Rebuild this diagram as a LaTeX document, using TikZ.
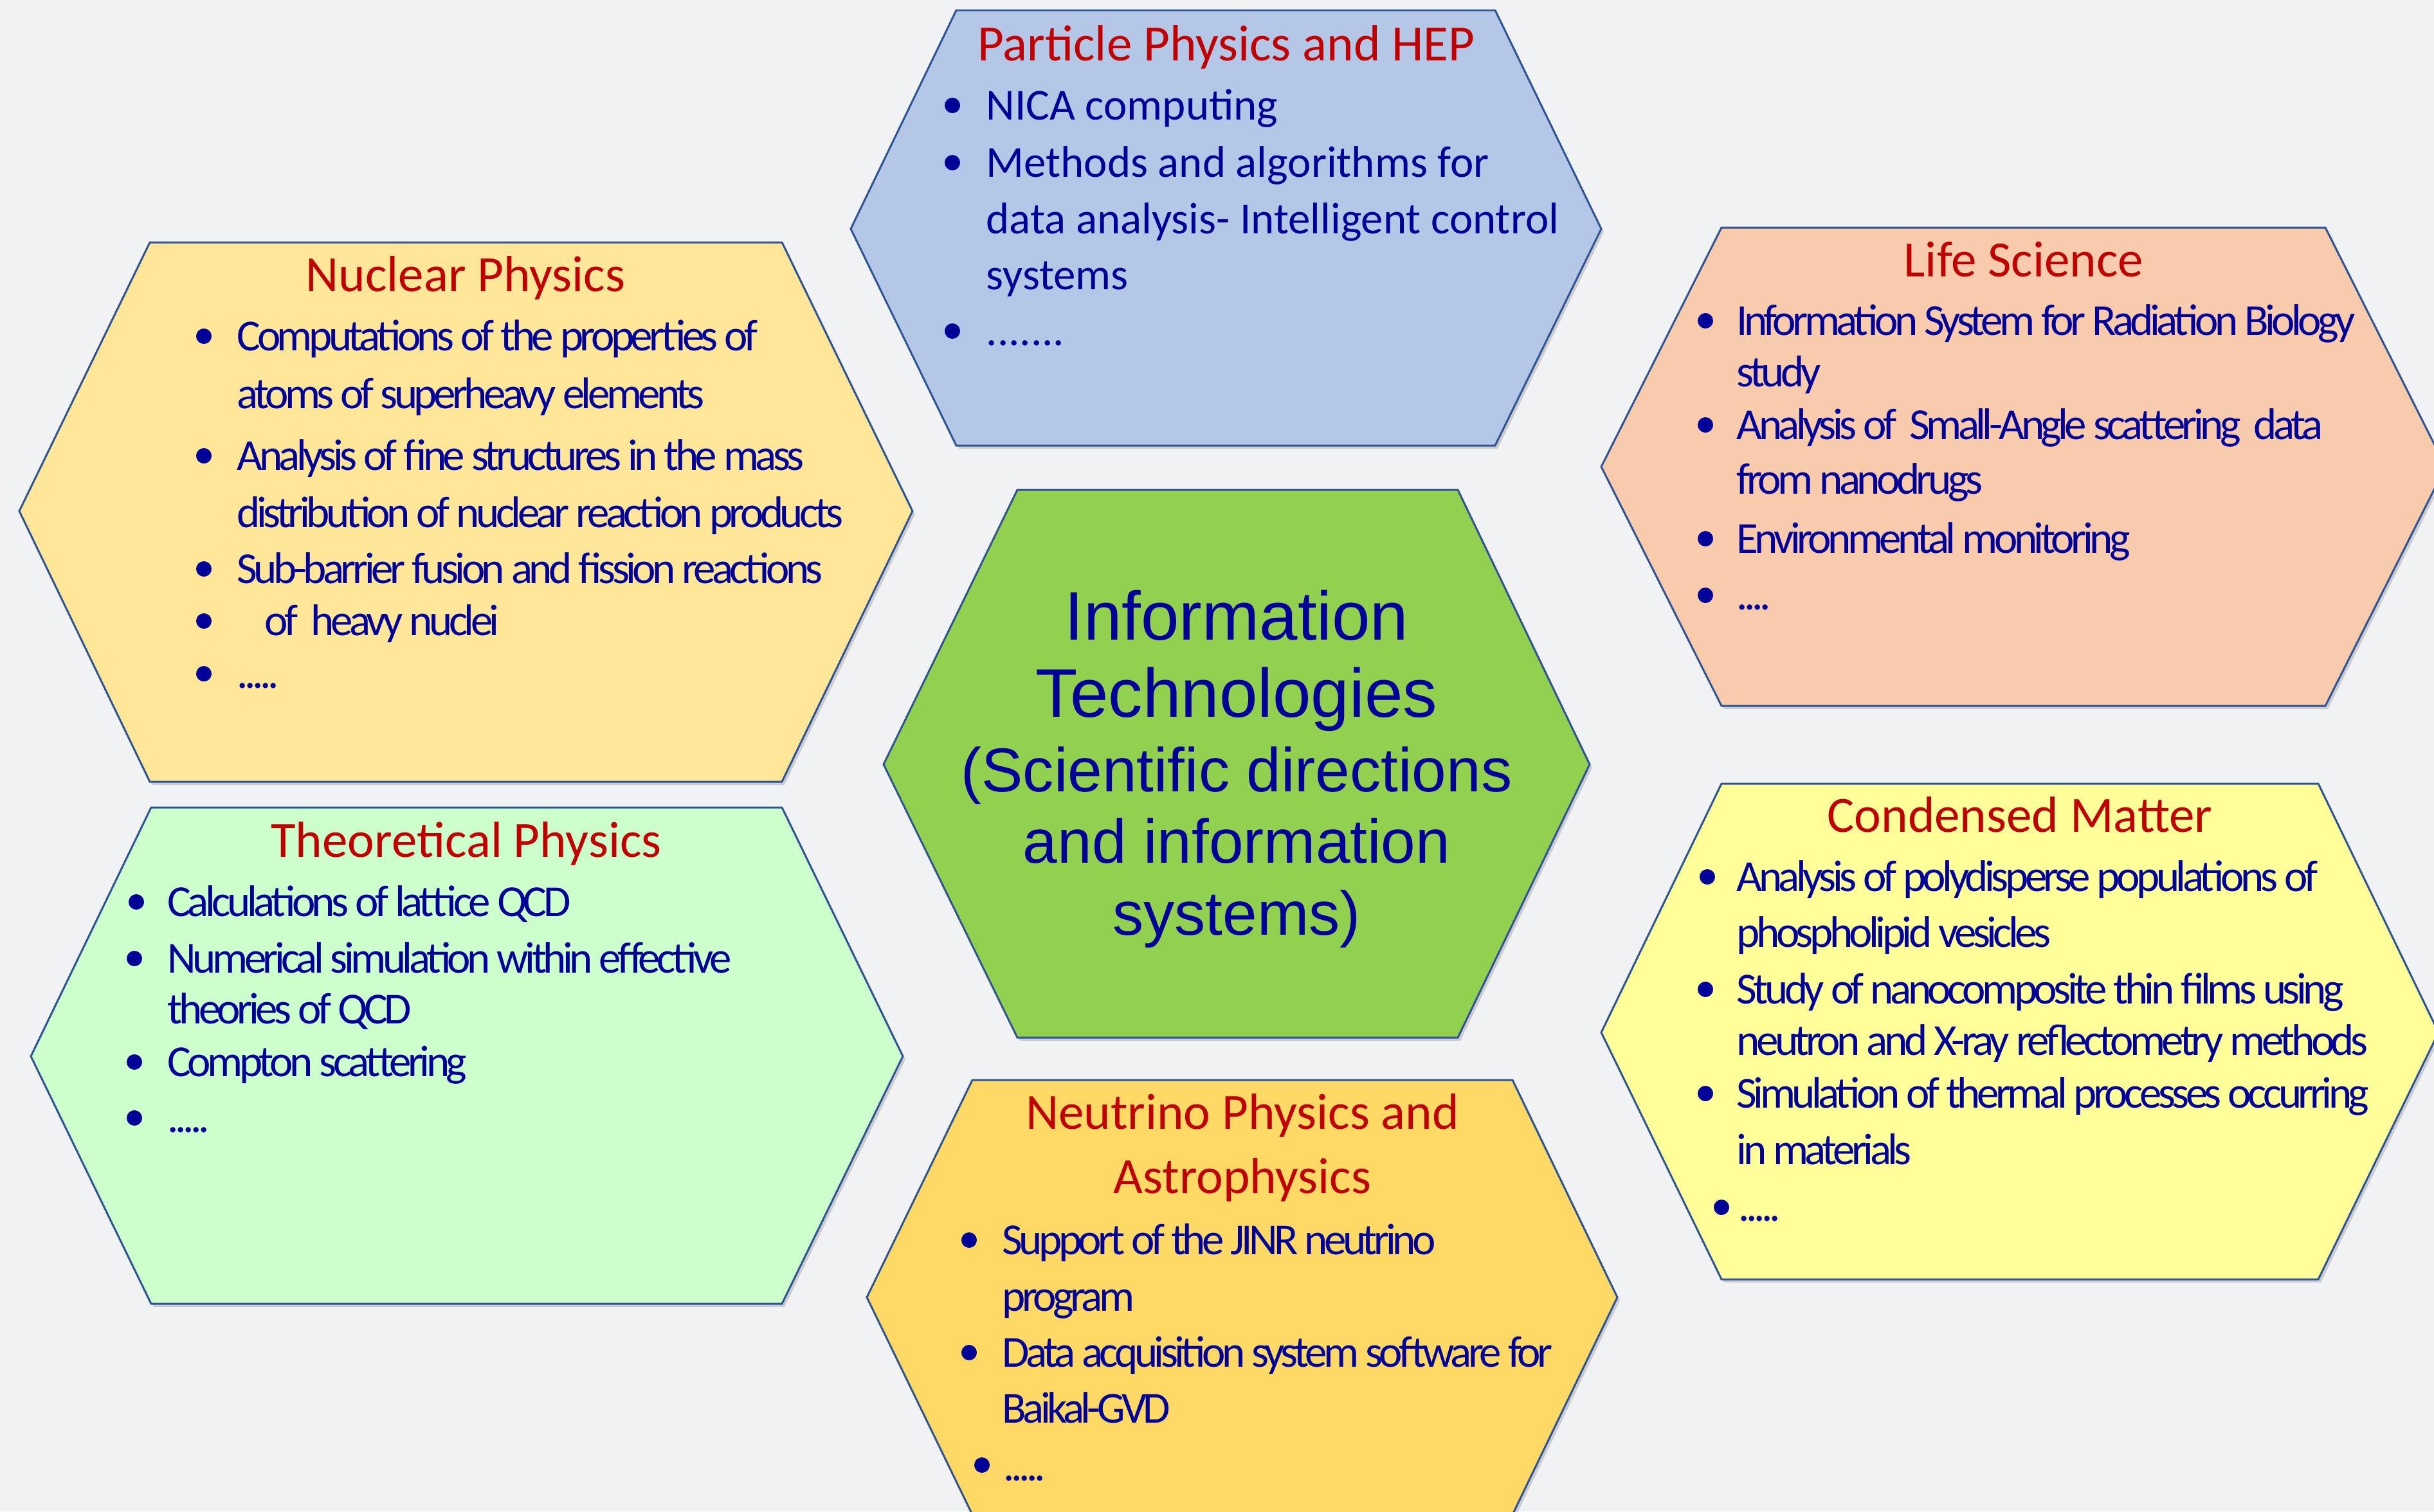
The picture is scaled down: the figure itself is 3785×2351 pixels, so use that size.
\documentclass[tikz,border=0pt]{standalone}
\usepackage{fontspec}
\setmainfont{Carlito}
\newfontfamily\condfont[LetterSpace=-8]{Carlito}
\newfontfamily\arialfont{Liberation Sans}
\definecolor{bgcol}{HTML}{F1F2F4}
\definecolor{hexline}{HTML}{2F5496}
\definecolor{ttlred}{HTML}{C00000}
\definecolor{txtblue}{HTML}{000099}
\definecolor{cPart}{HTML}{B4C7E7}
\definecolor{cNuc}{HTML}{FFE699}
\definecolor{cLife}{HTML}{F8CBAD}
\definecolor{cTheo}{HTML}{CCFFCC}
\definecolor{cNeu}{HTML}{FFD966}
\definecolor{cCond}{HTML}{FFFF99}
\definecolor{cMid}{HTML}{92D050}
\tikzset{
  hexbox/.style={draw=hexline, line width=0.85pt, line join=miter},
  hexshadow/.style={fill=black, opacity=0.15},
  ttl/.style={anchor=base, inner sep=0pt, text=ttlred, font=\fontsize{22.5}{26}\selectfont},
  ntxt/.style={anchor=base west, inner sep=0pt, text=txtblue, font=\fontsize{19.6}{24}\selectfont},
  ctxt/.style={anchor=base west, inner sep=0pt, text=txtblue, font=\condfont\fontsize{19.6}{24}\selectfont},
  bul/.style={circle, fill=txtblue, inner sep=0pt, minimum size=0.24cm},
  midbig/.style={anchor=base, inner sep=0pt, text=txtblue, font=\arialfont\fontsize{30.4}{36}\selectfont},
  midtxt/.style={anchor=base, inner sep=0pt, text=txtblue, font=\arialfont\fontsize{27.4}{33}\selectfont},
}
\newcommand\mkhex[8]{%
  \fill[hexshadow,shift={(4,5)}] (#1,#2) -- (#3,#4) -- (#5,#4) -- (#6,#2) -- (#5,#7) -- (#3,#7) -- cycle;
  \filldraw[hexbox,fill=#8] (#1,#2) -- (#3,#4) -- (#5,#4) -- (#6,#2) -- (#5,#7) -- (#3,#7) -- cycle;}
\begin{document}
\begin{tikzpicture}[x=0.01cm,y=-0.01cm]
\useasboundingbox (0,0) rectangle (3785,2351);
\clip (0,0) rectangle (3785,2351);
\fill[bgcol] (0,0) rectangle (3785,2351);

% hexagons: left x, mid y, top-left x, top y, top-right x, right x, bottom y, colour
\mkhex{1323}{356}{1487}{16}{2325}{2490}{693}{cPart}
\mkhex{30}{795}{233}{377}{1216}{1419}{1216}{cNuc}
\mkhex{2490}{726}{2677}{354}{3616}{3803}{1098}{cLife}
\mkhex{48}{1643}{235}{1256}{1216}{1404}{2028}{cTheo}
\mkhex{1348}{2018}{1512}{1680}{2352}{2515}{2356}{cNeu}
\mkhex{2490}{1606}{2677}{1219}{3605}{3792}{1990}{cCond}
\mkhex{1374}{1189}{1582}{762}{2267}{2472}{1614}{cMid}

% ---- Particle Physics and HEP
\node[ttl] (pT) at (1907,94) {Particle Physics and HEP};
\node[bul] (pb1) at (1481,164) {};
\node[ntxt] (p1) at (1533,186) {NICA computing};
\node[bul] (pb2) at (1481,253) {};
\node[ntxt] (p2) at (1533,275) {Methods and algorithms for};
\node[ntxt] (p3) at (1533,363) {data analysis- Intelligent control};
\node[ntxt] (p4) at (1533,450) {systems};
\node[bul] (pb3) at (1481,515) {};
\node[ntxt] (p5) at (1533,537) {.......};

% ---- Nuclear Physics
\node[ttl] (nT) at (724,453) {Nuclear Physics};
\node[bul] (nb1) at (317,523) {};
\node[ctxt] (n1) at (368,545) {Computations of the properties of};
\node[ctxt] (n2) at (368,635) {atoms of superheavy elements};
\node[bul] (nb2) at (317,709) {};
\node[ctxt] (n3) at (368,731) {Analysis of fine structures in the mass};
\node[ctxt] (n4) at (368,820) {distribution of nuclear reaction products};
\node[bul] (nb3) at (317,885) {};
\node[ctxt] (n5) at (368,907) {Sub-barrier fusion and fission reactions};
\node[bul] (nb4) at (317,966) {};
\node[ctxt] (n6) at (411,988) {of\ \ heavy nuclei};
\node[bul] (nb5) at (317,1048) {};
\node[ctxt] (n7) at (368,1070) {.....};

% ---- Life Science
\node[ttl] (lT) at (3147,430) {Life Science};
\node[bul] (lb1) at (2652,499) {};
\node[ctxt] (l1) at (2700,521) {Information System for Radiation Biology};
\node[ctxt] (l2) at (2700,601) {study};
\node[bul] (lb2) at (2652,661) {};
\node[ctxt] (l3) at (2700,683) {Analysis of\ \ Small-Angle scattering\ \ data};
\node[ctxt] (l4) at (2700,768) {from nanodrugs};
\node[bul] (lb3) at (2652,838) {};
\node[ctxt] (l5) at (2700,860) {Environmental monitoring};
\node[bul] (lb4) at (2652,926) {};
\node[ctxt] (l6) at (2700,948) {....};

% ---- Theoretical Physics
\node[ttl] (tT) at (725,1333) {Theoretical Physics};
\node[bul] (tb1) at (212,1403) {};
\node[ctxt] (t1) at (260,1425) {Calculations of lattice QCD};
\node[bul] (tb2) at (209,1491) {};
\node[ctxt] (t2) at (260,1513) {Numerical simulation within effective};
\node[ctxt] (t3) at (260,1592) {theories of QCD};
\node[bul] (tb3) at (209,1652) {};
\node[ctxt] (t4) at (260,1674) {Compton scattering};
\node[bul] (tb4) at (209,1739) {};
\node[ctxt] (t5) at (260,1761) {.....};

% ---- Neutrino Physics and Astrophysics
\node[ttl] (uT1) at (1932,1756) {Neutrino Physics and};
\node[ttl] (uT2) at (1932,1856) {Astrophysics};
\node[bul] (ub1) at (1507,1929) {};
\node[ctxt] (u1) at (1558,1951) {Support of the JINR neutrino};
\node[ctxt] (u2) at (1558,2039) {program};
\node[bul] (ub2) at (1507,2104) {};
\node[ctxt] (u3) at (1558,2126) {Data acquisition system software for};
\node[ctxt] (u4) at (1558,2213) {Baikal-GVD};
\node[bul] (ub3) at (1527,2279) {};
\node[ctxt] (u5) at (1560,2303) {.....};

% ---- Condensed Matter
\node[ttl] (cT) at (3141,1294) {Condensed Matter};
\node[bul] (cb1) at (2655,1364) {};
\node[ctxt] (c1) at (2700,1386) {Analysis of polydisperse populations of};
\node[ctxt] (c2) at (2700,1473) {phospholipid vesicles};
\node[bul] (cb2) at (2652,1539) {};
\node[ctxt] (c3) at (2700,1561) {Study of nanocomposite thin films using};
\node[ctxt] (c4) at (2700,1641) {neutron and X-ray reflectometry methods};
\node[bul] (cb3) at (2652,1701) {};
\node[ctxt] (c5) at (2700,1723) {Simulation of thermal processes occurring};
\node[ctxt] (c6) at (2700,1811) {in materials};
\node[bul] (cb4) at (2677,1878) {};
\node[ctxt] (c7) at (2703,1899) {.....};

% ---- Centre
\node[midbig] (m1) at (1923,995) {Information};
\node[midbig] (m2) at (1923,1115) {Technologies};
\node[midtxt] (m3) at (1923,1231) {(Scientific directions};
\node[midtxt] (m4) at (1923,1342) {and information};
\node[midtxt] (m5) at (1923,1454) {systems)};
\end{tikzpicture}
\end{document}
